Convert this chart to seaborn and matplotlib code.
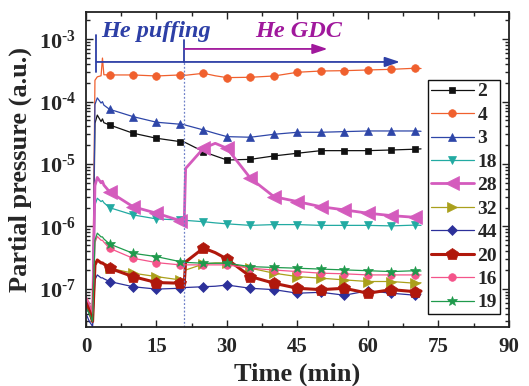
import numpy as np
import pandas as pd
import matplotlib
matplotlib.use("Agg")
import matplotlib.pyplot as plt
import seaborn as sns

# ---------------- data ----------------
time_min = [0, 0.7, 1.4, 1.9, 2.4, 3.2, 3.5, 3.8, 5, 10, 15, 20, 20.9, 21.2,
            25, 27.5, 30, 35, 40, 45, 50, 55, 60, 65, 70, 71.3]
marker_idx = [8, 9, 10, 11, 14, 16, 17, 18, 19, 20, 21, 22, 23, 24]

p2 = [6e-8, 4.5e-8, 3e-8, 4.5e-5, 6.1e-5, 4.8e-5, 5.3e-5, 4.6e-5, 4.24e-5, 3.12e-5, 2.59e-5, 2.29e-5, 2.25e-5, 2.2e-5,
      1.58e-5, 1.35e-5, 1.16e-5, 1.19e-5, 1.35e-5, 1.49e-5, 1.64e-5, 1.64e-5, 1.64e-5, 1.68e-5, 1.73e-5, 1.75e-5]
p4 = [7e-8, 5e-8, 3.5e-8, 2.2e-4, 2.5e-4, 2.6e-4, 5e-4, 2.7e-4, 2.68e-4, 2.68e-4, 2.58e-4, 2.68e-4, 2.7e-4, 2.65e-4,
      2.85e-4, 2.6e-4, 2.43e-4, 2.46e-4, 2.58e-4, 2.96e-4, 3.1e-4, 3.14e-4, 3.22e-4, 3.3e-4, 3.43e-4, 3.4e-4]
p3 = [5e-8, 4e-8, 3e-8, 9e-5, 1.15e-4, 9.5e-5, 1.0e-4, 8.8e-5, 7.55e-5, 5.76e-5, 4.68e-5, 4.35e-5, 4.3e-5, 4.2e-5,
      3.52e-5, 3.1e-5, 2.75e-5, 2.69e-5, 3.0e-5, 3.23e-5, 3.23e-5, 3.31e-5, 3.39e-5, 3.39e-5, 3.39e-5, 3.35e-5]
p18 = [5.5e-8, 4e-8, 2.8e-8, 2.2e-6, 2.83e-6, 2.5e-6, 2.6e-6, 2.4e-6, 2.0e-6, 1.53e-6, 1.32e-6, 1.27e-6, 1.26e-6, 1.25e-6,
       1.19e-6, 1.14e-6, 1.10e-6, 1.04e-6, 1.07e-6, 1.07e-6, 1.04e-6, 1.04e-6, 1.04e-6, 1.02e-6, 1.05e-6, 1.04e-6]
p28 = [6.5e-8, 5e-8, 3.5e-8, 4.5e-6, 6.1e-6, 5e-6, 5.3e-6, 4.6e-6, 3.6e-6, 2.07e-6, 1.63e-6, 1.24e-6, 1.2e-6, 8.5e-6,
       1.79e-5, 2.15e-5, 1.79e-5, 5.92e-6, 3.0e-6, 2.5e-6, 2.07e-6, 1.84e-6, 1.63e-6, 1.49e-6, 1.40e-6, 1.38e-6]
p32 = [5.5e-8, 4.5e-8, 3e-8, 2.4e-7, 2.9e-7, 2.6e-7, 2.6e-7, 2.5e-7, 2.14e-7, 1.78e-7, 1.57e-7, 1.39e-7, 1.4e-7, 2.0e-7,
       2.5e-7, 2.6e-7, 2.6e-7, 2.14e-7, 1.78e-7, 1.57e-7, 1.48e-7, 1.39e-7, 1.31e-7, 1.31e-7, 1.23e-7, 1.25e-7]
p44 = [4e-8, 3e-8, 2.5e-8, 1.4e-7, 1.67e-7, 1.5e-7, 1.5e-7, 1.45e-7, 1.31e-7, 1.08e-7, 9.9e-8, 1.02e-7, 1.0e-7, 1.05e-7,
       1.08e-7, 1.1e-7, 1.15e-7, 1.02e-7, 9.7e-8, 8.5e-8, 8.8e-8, 7.9e-8, 9.3e-8, 8.5e-8, 7.9e-8, 8.2e-8]
p20 = [6e-8, 4.5e-8, 3e-8, 2.4e-7, 2.9e-7, 2.6e-7, 2.6e-7, 2.5e-7, 2.14e-7, 1.57e-7, 1.26e-7, 1.23e-7, 1.2e-7, 2.7e-7,
       4.5e-7, 3.8e-7, 3.0e-7, 1.57e-7, 1.23e-7, 1.02e-7, 9.7e-8, 1.02e-7, 8.5e-8, 9.7e-8, 9.0e-8, 9.2e-8]
p16 = [7.5e-8, 6e-8, 4e-8, 5.5e-7, 6.9e-7, 6e-7, 6e-7, 5.6e-7, 4.47e-7, 3.09e-7, 2.63e-7, 2.42e-7, 2.42e-7, 2.42e-7,
       2.42e-7, 2.42e-7, 2.42e-7, 2.14e-7, 2.0e-7, 1.89e-7, 1.78e-7, 1.74e-7, 1.67e-7, 1.67e-7, 1.67e-7, 1.67e-7]
p19 = [5e-8, 4e-8, 3e-8, 6e-7, 7.8e-7, 6.8e-7, 6.8e-7, 6.3e-7, 5.24e-7, 3.71e-7, 3.28e-7, 2.73e-7, 2.7e-7, 2.65e-7,
       2.57e-7, 2.57e-7, 2.57e-7, 2.27e-7, 2.2e-7, 2.14e-7, 2.07e-7, 2.01e-7, 1.95e-7, 1.89e-7, 1.95e-7, 1.93e-7]

labels = ["2", "4", "3", "18", "28", "32", "44", "20", "16", "19"]
series = [p2, p4, p3, p18, p28, p32, p44, p20, p16, p19]

x_ticks = [0, 15, 30, 45, 60, 75, 90]
y_ticks = [1e-7, 1e-6, 1e-5, 1e-4, 1e-3]
y_exponents = ["7", "6", "5", "4", "3"]

puff_start, puff_end = 2.2, 66.8
gdc_start, gdc_end = 20.9, 51.4

# ---------------- style ----------------
colors = ["#111111", "#f0602e", "#2e46a8", "#22aaa2", "#d45bbd",
          "#aaa01c", "#2c309a", "#b0180c", "#f4548a", "#1f9a4c"]
markers = ["s", "o", "^", "v", "<", ">", "D", "p", "o", "*"]
msizes = [5, 5.5, 6, 6, 10, 6.5, 5, 9, 5.5, 7.5]
lws = [0.9, 0.9, 0.9, 0.9, 2.0, 0.9, 0.9, 2.2, 0.9, 0.9]

sns.set_style("ticks")
plt.rcParams["font.family"] = ["Liberation Serif", "DejaVu Serif"]
plt.rcParams["font.weight"] = "bold"
plt.rcParams["mathtext.fontset"] = "custom"
plt.rcParams["mathtext.rm"] = "Liberation Serif:bold"
plt.rcParams["mathtext.bf"] = "Liberation Serif:bold"
plt.rcParams["mathtext.it"] = "Liberation Serif:bold:italic"
plt.rcParams["xtick.direction"] = "in"
plt.rcParams["ytick.direction"] = "in"

fig = plt.figure(figsize=(5.29, 3.86), dpi=100)
ax = fig.add_axes([0.1626, 0.1516, 0.7994, 0.8174])

for lab, vals, c, m, ms, lw in zip(labels, series, colors, markers, msizes, lws):
    df = pd.DataFrame({"t": time_min, "p": vals})
    sns.lineplot(data=df, x="t", y="p", ax=ax, color=c, lw=lw, marker=m,
                 markersize=ms, markeredgewidth=0.5, markeredgecolor=c,
                 markevery=marker_idx, label=lab, estimator=None, sort=False)

ax.set_yscale("log")
ax.set_xlim(0, 90)
ax.set_ylim(2.4e-8, 2.74e-3)
ax.set_xticks(x_ticks)
ax.set_xticklabels([str(v) for v in x_ticks], fontsize=15, fontweight="bold")
ax.set_xticks(np.arange(0, 91, 7.5), minor=True)
ax.set_yticks(y_ticks)
ax.set_yticklabels([r"$\mathbf{10^{\text{-}%s}}$" % e for e in y_exponents], fontsize=16)
ax.yaxis.set_minor_locator(matplotlib.ticker.LogLocator(base=10, subs=np.arange(2, 10)))
ax.yaxis.set_minor_formatter(matplotlib.ticker.NullFormatter())
ax.tick_params(which="both", top=True, right=True, direction="in", color="#222222", width=1.0)
ax.tick_params(which="major", length=5, pad=7)
ax.tick_params(which="minor", length=3)
for s in ax.spines.values():
    s.set_linewidth(1.3)
    s.set_color("#222222")

ax.set_xlabel("Time (min)", fontsize=19, fontweight="bold", labelpad=4)
ax.set_ylabel("Partial pressure (a.u.)", fontsize=19, fontweight="bold", labelpad=5)

# annotations
blue = "#2d3fa6"
mag = "#a0189c"
ax.plot([puff_start, puff_start], [3.0e-4, 1.17e-3], color=blue, lw=1.3)
ax.annotate("", xy=(puff_end, 4.33e-4), xytext=(puff_start, 4.33e-4),
            arrowprops=dict(arrowstyle="-|>,head_length=0.9,head_width=0.3", color=blue, lw=1.3,
                            shrinkA=0, shrinkB=0))
ax.plot([gdc_start, gdc_start], [4.33e-4, 9.75e-4], color=blue, lw=1.3)
ax.annotate("", xy=(gdc_end, 7.0e-4), xytext=(gdc_start, 7.0e-4),
            arrowprops=dict(arrowstyle="-|>,head_length=0.9,head_width=0.3", color=mag, lw=1.3,
                            shrinkA=0, shrinkB=0))
ax.plot([gdc_start, gdc_start], [2.4e-8, 4.33e-4], color="#6f80c8", lw=0.9, ls=(0, (1.5, 1.5)))
ax.text(3.3, 1.1e-3, "He puffing", color=blue, fontsize=17.5, fontweight="bold",
        fontstyle="italic", ha="left", va="baseline")
ax.text(36, 1.1e-3, "He GDC", color=mag, fontsize=17.5, fontweight="bold",
        fontstyle="italic", ha="left", va="baseline")

leg = ax.legend(loc="upper left", bbox_to_anchor=(0.809, 0.793), bbox_transform=fig.transFigure,
                frameon=True, fancybox=False, edgecolor="#111111", framealpha=1,
                prop={"size": 14, "weight": "bold"}, handlelength=2.2, handletextpad=0.2,
                labelspacing=0.3, borderpad=0.15, borderaxespad=0)
leg.get_frame().set_linewidth(1.0)

fig.savefig("out.png", dpi=100)
